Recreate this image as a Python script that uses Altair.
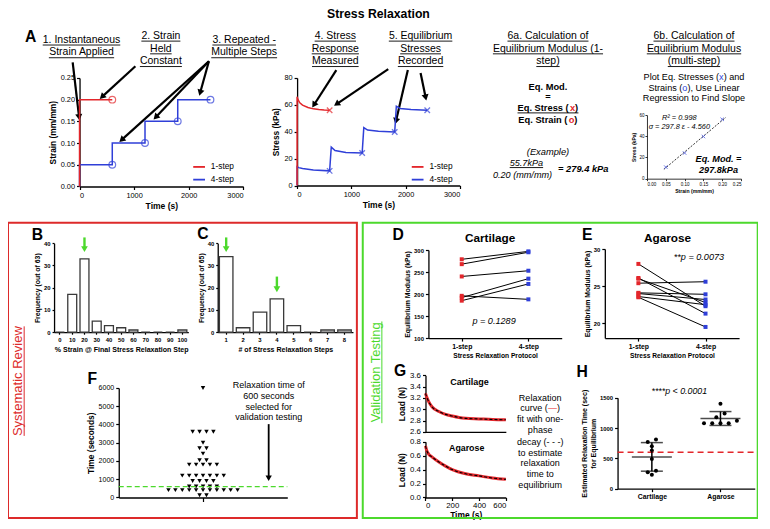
import math
import altair as alt
import pandas as pd

# ====================== DATA ======================
strain_t_1 = [0, 0, 600]
strain_v_1 = [0.0, 0.20, 0.20]
strain_t_4 = [0, 0, 600, 600, 1200, 1200, 1800, 1800, 2400]
strain_v_4 = [0.0, 0.05, 0.05, 0.10, 0.10, 0.15, 0.15, 0.20, 0.20]
eq_t_1 = [600]
eq_strain_1 = [0.20]
eq_t_4 = [600, 1200, 1800, 2400]
eq_strain_4 = [0.05, 0.10, 0.15, 0.20]

stress_t_1 = [0, 0, 15, 50, 100, 200, 300, 400, 500, 600]
stress_v_1 = [0, 66, 64, 61.5, 59.8, 58, 57, 56.5, 56.2, 56.0]
stress_t_4 = [0, 0, 30, 100, 300, 600, 600, 630, 700, 900, 1200, 1200, 1230, 1300,
              1500, 1800, 1800, 1830, 1900, 2100, 2400]
stress_v_4 = [0, 14, 13.3, 12.6, 11.6, 10.9, 10.9, 28.5, 26, 24.6, 24.2, 24.2, 43, 41.2,
              40.3, 39.8, 39.8, 59, 57.3, 56.5, 56.0]
eq_stress_1 = [56.0]
eq_stress_4 = [10.9, 24.2, 39.8, 56.0]

fit_strain = [0.045, 0.21]
fit_stress = [8.8, 58.0]

b_cats = ["0", "10", "20", "30", "40", "50", "60", "70", "80", "90", "100"]
b_freq = [0, 17, 33, 5, 3, 2, 1, 0, 0, 0, 1]
c_cats = ["1", "2", "3", "4", "5", "6", "7", "8"]
c_freq = [34, 2, 9, 15, 3, 0, 1, 1]

cart_1step = [279, 268, 240, 196, 192, 185]
cart_4step = [297, 295, 253, 188, 235, 223]
agar_1step = [28.0, 26.1, 26.0, 25.4, 24.1, 24.0, 23.6, 23.5]
agar_4step = [22.3, 21.3, 22.8, 25.6, 23.9, 23.2, 22.5, 19.5]

review_times = ([6000] + [3600] * 4 + [3000] + [2700] * 2 + [2400] + [2040] * 2 +
                [1800] * 5 + [1200] * 7 + [900] * 4 + [600] * 5 + [400] * 11 + [120] * 2)

g_time_c = [0, 10, 25, 50, 100, 150, 200, 250, 300, 400, 500, 600]
g_load_c = [3.28, 3.21, 3.13, 3.04, 2.96, 2.91, 2.88, 2.855, 2.84, 2.83, 2.82, 2.815]
g_time_a = [0, 10, 25, 50, 100, 150, 200, 300, 400, 500, 600]
g_load_a = [0.74, 0.67, 0.62, 0.58, 0.51, 0.45, 0.40, 0.34, 0.31, 0.28, 0.26]

h_cart = [810, 770, 700, 630, 490, 295, 270, 230]
h_agar = [1400, 1240, 1180, 1120, 1080, 1080, 1080, 1080]
h_threshold = 600
f_threshold = 600

# ====================== STYLE / LAYOUT ======================
FONT = "Liberation Sans"
RED = "#e3262b"
BLUE = "#2f3fd8"
GREEN = "#4cd92c"
BOXRED = "#dd2a2a"
SX, SY = 0.98, 0.978


def LX(x):
    return (x - 2.0) * SX


def LY(y):
    return (y - 2.5) * SY


def fs(v):
    return v * 0.98


CW = int(LX(768))
CH = 512

AW = {' ': 278, '!': 278, '"': 355, '#': 556, '$': 556, '%': 889, '&': 667, "'": 191,
      '(': 333, ')': 333, '*': 389, '+': 584, ',': 278, '-': 333, '.': 278, '/': 278,
      ':': 278, ';': 278, '<': 584, '=': 584, '>': 584, '?': 556, '@': 1015,
      'A': 667, 'B': 667, 'C': 722, 'D': 722, 'E': 667, 'F': 611, 'G': 778, 'H': 722,
      'I': 278, 'J': 500, 'K': 667, 'L': 556, 'M': 833, 'N': 722, 'O': 778, 'P': 667,
      'Q': 778, 'R': 722, 'S': 667, 'T': 611, 'U': 722, 'V': 667, 'W': 944, 'X': 667,
      'Y': 667, 'Z': 611, 'a': 556, 'b': 556, 'c': 500, 'd': 556, 'e': 556, 'f': 278,
      'g': 556, 'h': 556, 'i': 222, 'j': 222, 'k': 500, 'l': 222, 'm': 833, 'n': 556,
      'o': 556, 'p': 556, 'q': 556, 'r': 333, 's': 500, 't': 278, 'u': 556, 'v': 500,
      'w': 722, 'x': 500, 'y': 500, 'z': 500, '\u2014': 1000}


def text_w(s, size, bold=False):
    w = sum(AW.get(ch, 556) for ch in s) / 1000.0 * size
    return w * (1.08 if bold else 1.0)


one = pd.DataFrame({"k": [0]})
base = alt.Chart(one)
ann = []


def T(s, x, y, size, bold=False, italic=False, color="black", align="center",
      angle=0, underline=False):
    f = fs(size)
    ann.append(base.mark_text(font=FONT, fontSize=f, fontWeight="bold" if bold else "normal",
                              fontStyle="italic" if italic else "normal", color=color,
                              align=align, baseline="middle", angle=angle)
               .encode(x=alt.value(LX(x)), y=alt.value(LY(y)), text=alt.value(s)))
    if underline:
        w = text_w(s, f, bold)
        cx = LX(x)
        x0 = cx if align == "left" else (cx - w if align == "right" else cx - w / 2)
        yy = LY(y) + f * 0.5
        ann.append(base.mark_rule(color=color, strokeWidth=0.9)
                   .encode(x=alt.value(x0), x2=alt.value(x0 + w), y=alt.value(yy), y2=alt.value(yy)))


def RICH(segs, x, y, size, bold=False, italic=False, underline=False):
    f = fs(size)
    total = sum(text_w(s, f, bold) for s, _ in segs)
    cur = LX(x) - total / 2
    for s, col in segs:
        ann.append(base.mark_text(font=FONT, fontSize=f, fontWeight="bold" if bold else "normal",
                                  fontStyle="italic" if italic else "normal", color=col,
                                  align="left", baseline="middle")
                   .encode(x=alt.value(cur), y=alt.value(LY(y)), text=alt.value(s)))
        cur += text_w(s, f, bold)
    if underline:
        yy = LY(y) + f * 0.5
        ann.append(base.mark_rule(color="black", strokeWidth=0.9)
                   .encode(x=alt.value(LX(x) - total / 2), x2=alt.value(LX(x) + total / 2),
                           y=alt.value(yy), y2=alt.value(yy)))


def LINE(x1, y1, x2, y2, color="black", width=1.0):
    ann.append(base.mark_rule(color=color, strokeWidth=width)
               .encode(x=alt.value(LX(x1)), y=alt.value(LY(y1)),
                       x2=alt.value(LX(x2)), y2=alt.value(LY(y2))))


def ARROW(x1, y1, x2, y2, color="black", width=2.2, head=50):
    X1, Y1, X2, Y2 = LX(x1), LY(y1), LX(x2), LY(y2)
    dx, dy = X2 - X1, Y2 - Y1
    L = math.hypot(dx, dy)
    ux, uy = dx / L, dy / L
    hl = math.sqrt(head) * 0.55
    ann.append(base.mark_rule(color=color, strokeWidth=width)
               .encode(x=alt.value(X1), y=alt.value(Y1),
                       x2=alt.value(X2 - ux * hl), y2=alt.value(Y2 - uy * hl)))
    ang = math.degrees(math.atan2(dx, -dy)) % 360
    ann.append(base.mark_point(shape="triangle-up", filled=True, color=color, size=head,
                               angle=ang, opacity=1)
               .encode(x=alt.value(X2 - ux * hl), y=alt.value(Y2 - uy * hl)))


def BOX(x0, y0, x1, y1, color):
    ann.append(base.mark_rect(fillOpacity=0, stroke=color, strokeWidth=2)
               .encode(x=alt.value(LX(x0)), x2=alt.value(LX(x1)),
                       y=alt.value(LY(y0)), y2=alt.value(LY(y1))))


# ---------------- annotations ----------------
T("Stress Relaxation", 380, 9, 12.5, bold=True)
T("A", 25, 32, 16, bold=True)
for s, x, y in [("1. Instantaneous", 77, 35), ("Strain Applied", 77, 48),
                ("2. Strain", 158, 31), ("Held", 158, 44), ("Constant", 158, 57),
                ("3. Repeated -", 243, 35), ("Multiple Steps", 243, 48),
                ("4. Stress", 336, 31), ("Response", 336, 44), ("Measured", 336, 57),
                ("5. Equilibrium", 423, 31), ("Stresses", 423, 44), ("Recorded", 423, 57),
                ("6a. Calculation of", 553, 31), ("Equilibrium Modulus (1-", 553, 44),
                ("step)", 553, 57),
                ("6b. Calculation of", 702, 31), ("Equilibrium Modulus", 702, 44),
                ("(multi-step)", 702, 57)]:
    T(s, x, y, 10.7, underline=True)

T("Eq. Mod.", 553, 83, 9.5, bold=True)
T("=", 553, 94, 9.5, bold=True)
RICH([("Eq. Stress (", "black"), ("x", RED), (")", "black")], 553, 105, 9.5, bold=True,
     underline=True)
RICH([("Eq. Strain (", "black"), ("o", RED), (")", "black")], 553, 117, 9.5, bold=True)
T("(Example)", 553, 150, 9.5, italic=True)
T("55.7kPa", 531, 161, 9.3, italic=True, underline=True)
T("0.20 (mm/mm)", 527, 173, 9.3, italic=True)
T("= 279.4 kPa", 589, 167, 9.5, bold=True, italic=True)

RICH([("Plot Eq. Stresses (", "black"), ("x", BLUE), (") and", "black")], 702, 73, 9.3)
RICH([("Strains (", "black"), ("o", BLUE), ("), Use Linear", "black")], 702, 84, 9.3)
T("Regression to Find Slope", 702, 95, 9.3)
T("R\u00b2 = 0.998", 687, 115, 7.5, italic=True)
T("\u03c3 = 297.8 \u03b5 - 4.560", 687, 124, 7.5, italic=True)
T("Eq. Mod. =", 727, 157, 9.3, bold=True, italic=True)
T("297.8kPa", 727, 168, 9.3, bold=True, italic=True)

for lx in (191, 414):
    LINE(lx, 165, lx + 12, 165, RED, 1.8)
    LINE(lx, 178, lx + 12, 178, BLUE, 1.8)
    T("1-step", lx + 18, 165, 8.5, align="left")
    T("4-step", lx + 18, 178, 8.5, align="left")

for a in [(68, 58, 75, 118), (132, 62, 95, 96), (207, 57, 115, 140), (207, 57, 150, 117),
          (207, 57, 197, 93), (337, 66, 312, 105), (390, 65, 334, 103), (410, 66, 397, 122),
          (423, 69, 429, 98)]:
    ARROW(*a)

BOX(2, 222, 358, 524, BOXRED)
BOX(364, 222, 767, 524, GREEN)
T("Systematic Review", 12, 384, 13.3, color=BOXRED, angle=270)
LINE(18.5, 328, 18.5, 440, BOXRED, 1.0)
T("Validation Testing", 377, 375, 13.2, color=GREEN, angle=270)
LINE(383.5, 323, 383.5, 427, GREEN, 1.0)

for s, x, y in [("B", 32, 235), ("C", 201, 234), ("D", 400, 235), ("E", 593, 235),
                ("F", 88, 382), ("G", 402, 374), ("H", 588, 375)]:
    T(s, x, y, 16, bold=True)
T("Cartilage", 494, 238, 12, bold=True)
T("Agarose", 675, 238, 12, bold=True)
T("p = 0.1289", 498, 323, 9.3, italic=True)
T("**p = 0.0073", 707, 257, 9.3, italic=True)
T("****p < 0.0001", 687, 394, 9.0, italic=True)

for s, y in [("Relaxation time of", 388), ("600 seconds", 399), ("selected for", 410),
             ("validation testing", 421)]:
    T(s, 268, y, 9.2)
ARROW(268, 428, 268, 487, width=1.8, head=40)

T("Cartilage", 473, 385, 9.2, bold=True)
T("Agarose", 470, 452, 9.0, bold=True)
for s, y in [("Relaxation", 401), (None, 412), ("fit with one-", 423), ("phase", 434),
             ("decay (- - -)", 446), ("to estimate", 457), ("relaxation", 468),
             ("time to", 479), ("equilibrium", 490)]:
    if s is None:
        RICH([("curve (", "black"), ("\u2014", RED), (")", "black")], 545, y, 9.2)
    else:
        T(s, 545, y, 9.2)

# ====================== PANEL GEOMETRY ======================
rects = {
    "A1": (75, 74, 242, 185),
    "A2": (297, 74, 463, 184),
    "M": (654, 112, 750, 177),
    "B": (49, 243, 186, 334),
    "C": (216, 243, 354, 334),
    "D": (431, 250, 567, 340),
    "E": (611, 249, 748, 340),
    "F": (115, 391, 287, 503),
    "G1": (428, 378, 510, 436),
    "G2": (428, 446, 510, 503),
    "H": (624, 401, 764, 494),
}


def R(name):
    x0, y0, x1, y1 = rects[name]
    return LX(x0), LY(y0), LX(x1), LY(y1)


def xrange_(name):
    X0, Y0, X1, Y1 = R(name)
    return [X0, X1]


def yrange_(name):
    X0, Y0, X1, Y1 = R(name)
    return [Y1, Y0]


def xaxis(name, **kw):
    X0, Y0, X1, Y1 = R(name)
    d = dict(orient="bottom", offset=Y1 - CH, labelFont=FONT, titleFont=FONT, tickSize=3,
             labelPadding=2, titlePadding=3, grid=False)
    d.update(kw)
    return alt.Axis(**d)


def yaxis(name, **kw):
    X0, Y0, X1, Y1 = R(name)
    d = dict(orient="left", offset=-X0, labelFont=FONT, titleFont=FONT, tickSize=3,
             labelPadding=2, titlePadding=3, grid=False)
    d.update(kw)
    return alt.Axis(**d)


# ---- A1 strain ----
dA1a = pd.DataFrame({"a1t": strain_t_1, "a1s": strain_v_1, "a1i": list(range(len(strain_t_1)))})
dA1b = pd.DataFrame({"a1t": strain_t_4, "a1s": strain_v_4, "a1i": list(range(len(strain_t_4)))})
dA1c = pd.DataFrame({"a1t": eq_t_1, "a1s": eq_strain_1})
dA1d = pd.DataFrame({"a1t": eq_t_4, "a1s": eq_strain_4})
xA1 = alt.X("a1t:Q", scale=alt.Scale(domain=[0, 3000], range=xrange_("A1"), nice=False),
            axis=xaxis("A1", values=[0, 1000, 2000, 3000], format="d", title="Time (s)",
                       labelFontSize=fs(7.5), titleFontSize=fs(8.7)))
yA1 = alt.Y("a1s:Q", scale=alt.Scale(domain=[0, 0.25], range=yrange_("A1"), nice=False),
            axis=yaxis("A1", values=[0, 0.05, 0.1, 0.15, 0.2, 0.25], format=".2f",
                       title="Strain (mm/mm)", labelFontSize=fs(7.5), titleFontSize=fs(8.5)))
pA1 = alt.layer(
    alt.Chart(dA1b).mark_line(color=BLUE, strokeWidth=1.5).encode(x=xA1, y=yA1, order="a1i:Q"),
    alt.Chart(dA1a).mark_line(color=RED, strokeWidth=1.5).encode(x=xA1, y=yA1, order="a1i:Q"),
    alt.Chart(dA1d).mark_point(shape="circle", filled=False, color=BLUE, size=45,
                               strokeWidth=1.2).encode(x=xA1, y=yA1),
    alt.Chart(dA1c).mark_point(shape="circle", filled=False, color=RED, size=45,
                               strokeWidth=1.2).encode(x=xA1, y=yA1),
)

# ---- A2 stress ----
XSHAPE = "M-1,-1L1,1M-1,1L1,-1"
dA2a = pd.DataFrame({"a2t": stress_t_1, "a2s": stress_v_1, "a2i": list(range(len(stress_t_1)))})
dA2b = pd.DataFrame({"a2t": stress_t_4, "a2s": stress_v_4, "a2i": list(range(len(stress_t_4)))})
dA2c = pd.DataFrame({"a2t": eq_t_1, "a2s": eq_stress_1})
dA2d = pd.DataFrame({"a2t": eq_t_4, "a2s": eq_stress_4})
xA2 = alt.X("a2t:Q", scale=alt.Scale(domain=[0, 3000], range=xrange_("A2"), nice=False),
            axis=xaxis("A2", values=[0, 1000, 2000, 3000], format="d", title="Time (s)",
                       labelFontSize=fs(7.5), titleFontSize=fs(8.7)))
yA2 = alt.Y("a2s:Q", scale=alt.Scale(domain=[0, 80], range=yrange_("A2"), nice=False),
            axis=yaxis("A2", values=[0, 20, 40, 60, 80], title="Stress (kPa)",
                       labelFontSize=fs(7.5), titleFontSize=fs(8.5)))
pA2 = alt.layer(
    alt.Chart(dA2b).mark_line(color=BLUE, strokeWidth=1.5).encode(x=xA2, y=yA2, order="a2i:Q"),
    alt.Chart(dA2a).mark_line(color=RED, strokeWidth=1.5).encode(x=xA2, y=yA2, order="a2i:Q"),
    alt.Chart(dA2d).mark_point(shape=XSHAPE, filled=False, color=BLUE, size=30,
                               strokeWidth=1.3).encode(x=xA2, y=yA2),
    alt.Chart(dA2c).mark_point(shape=XSHAPE, filled=False, color=RED, size=30,
                               strokeWidth=1.3).encode(x=xA2, y=yA2),
)

# ---- 6b mini regression plot ----
dMa = pd.DataFrame({"me": eq_strain_4, "mp": eq_stress_4})
dMb = pd.DataFrame({"me": fit_strain, "mp": fit_stress})
xM = alt.X("me:Q", scale=alt.Scale(domain=[0, 0.25], range=xrange_("M"), nice=False),
           axis=xaxis("M", values=[0, 0.05, 0.1, 0.15, 0.2, 0.25], format=".2f",
                      title="Strain (mm/mm)", labelFontSize=fs(4.6), titleFontSize=fs(5.2),
                      tickSize=2, domainWidth=0.8, tickWidth=0.8, titlePadding=2, labelPadding=1))
yM = alt.Y("mp:Q", scale=alt.Scale(domain=[0, 60], range=yrange_("M"), nice=False),
           axis=yaxis("M", values=[0, 20, 40, 60], title="Stress (kPa)", labelFontSize=fs(4.6),
                      titleFontSize=fs(5.2), tickSize=2, domainWidth=0.8, tickWidth=0.8,
                      titlePadding=2, labelPadding=1))
pM = alt.layer(
    alt.Chart(dMb).mark_line(color="black", strokeWidth=0.8, strokeDash=[2, 1.5]).encode(x=xM, y=yM),
    alt.Chart(dMa).mark_point(shape=XSHAPE, filled=False, color=BLUE, size=12,
                              strokeWidth=1).encode(x=xM, y=yM),
)

# ---- B histogram ----
dB = pd.DataFrame({"bcat": b_cats, "bfreq": b_freq})
xB = alt.X("bcat:N", sort=b_cats,
           scale=alt.Scale(domain=b_cats, range=xrange_("B"), paddingInner=0.27, paddingOuter=0.12),
           axis=xaxis("B", labelAngle=0, title="% Strain @ Final Stress Relaxation Step",
                      labelFontSize=fs(6), titleFontSize=fs(7.2), labelFontWeight="bold",
                      tickSize=2))
yB = alt.Y("bfreq:Q", scale=alt.Scale(domain=[0, 40], range=yrange_("B"), nice=False),
           axis=yaxis("B", values=[0, 10, 20, 30, 40], title="Frequency (out of 63)",
                      labelFontSize=fs(6), titleFontSize=fs(7), labelFontWeight="bold", tickSize=2))
pB = alt.layer(
    alt.Chart(dB).mark_bar(fill="white", stroke="#3a3a3a", strokeWidth=1.3).encode(x=xB, y=yB),
    base.mark_rule(color=GREEN, strokeWidth=2.4).encode(x=alt.datum("20"), y=alt.datum(42.6),
                                                         y2=alt.datum(38.0)),
    base.mark_point(shape="triangle-down", filled=True, color=GREEN, size=45, opacity=1)
    .encode(x=alt.datum("20"), y=alt.datum(37.3)),
)

# ---- C histogram ----
dC = pd.DataFrame({"ccat": c_cats, "cfreq": c_freq})
xC = alt.X("ccat:N", sort=c_cats,
           scale=alt.Scale(domain=c_cats, range=xrange_("C"), paddingInner=0.2, paddingOuter=0.1),
           axis=xaxis("C", labelAngle=0, title="# of Stress Relaxation Steps",
                      labelFontSize=fs(6), titleFontSize=fs(7.2), labelFontWeight="bold",
                      tickSize=2))
yC = alt.Y("cfreq:Q", scale=alt.Scale(domain=[0, 40], range=yrange_("C"), nice=False),
           axis=yaxis("C", values=[0, 10, 20, 30, 40], title="Frequency (out of 65)",
                      labelFontSize=fs(6), titleFontSize=fs(7), labelFontWeight="bold", tickSize=2))
pC = alt.layer(
    alt.Chart(dC).mark_bar(fill="white", stroke="#3a3a3a", strokeWidth=1.3).encode(x=xC, y=yC),
    base.mark_rule(color=GREEN, strokeWidth=2.4).encode(x=alt.datum("1"), y=alt.datum(42.6),
                                                         y2=alt.datum(38.0)),
    base.mark_point(shape="triangle-down", filled=True, color=GREEN, size=45, opacity=1)
    .encode(x=alt.datum("1"), y=alt.datum(37.3)),
    base.mark_rule(color=GREEN, strokeWidth=2.4).encode(x=alt.datum("4"), y=alt.datum(25.0),
                                                         y2=alt.datum(20.0)),
    base.mark_point(shape="triangle-down", filled=True, color=GREEN, size=45, opacity=1)
    .encode(x=alt.datum("4"), y=alt.datum(19.3)),
)


# ---- D / E paired plots ----
def paired(name, one_step, four_step, dom, vals, pre):
    n = len(one_step)
    df = pd.DataFrame({pre + "pair": list(range(n)) * 2,
                       pre + "proto": ["1-step"] * n + ["4-step"] * n,
                       pre + "v": one_step + four_step})
    ch = alt.Chart(df).transform_calculate(
        **{pre + "xi": "datum['%sproto'] == '1-step' ? 0 : 1" % pre})
    x = alt.X(pre + "xi:Q", scale=alt.Scale(domain=[-0.5, 1.5], range=xrange_(name), nice=False,
                                            zero=False),
              axis=xaxis(name, values=[0, 1],
                         labelExpr="datum.value == 0 ? '1-step' : '4-step'",
                         title="Stress Relaxation Protocol", labelFontSize=fs(7),
                         titleFontSize=fs(6.8), labelFontWeight="bold"))
    y = alt.Y(pre + "v:Q", scale=alt.Scale(domain=dom, range=yrange_(name), nice=False, zero=False),
              axis=yaxis(name, values=vals, title="Equilibrium Modulus (kPa)", labelFontSize=fs(6),
                         titleFontSize=fs(7), labelFontWeight="bold"))
    return alt.layer(
        ch.mark_line(color="black", strokeWidth=1).encode(x=x, y=y, detail=pre + "pair:N"),
        ch.mark_square(size=16, opacity=1).encode(
            x=x, y=y, color=alt.Color(pre + "proto:N",
                                      scale=alt.Scale(domain=["1-step", "4-step"],
                                                      range=[RED, BLUE]), legend=None)),
    )


pD = paired("D", cart_1step, cart_4step, [100, 300], [100, 150, 200, 250, 300], "d_")
pE = paired("E", agar_1step, agar_4step, [18, 30], [20, 25, 30], "e_")

# ---- F beeswarm of review times ----
dF = pd.DataFrame({"fv": review_times})
xF = alt.X("foff:Q", scale=alt.Scale(domain=[-1, 1], range=xrange_("F"), nice=False, zero=False),
           axis=xaxis("F", values=[0], labels=False, title="", tickSize=4))
yF = alt.Y("fv:Q", scale=alt.Scale(domain=[0, 6000], range=yrange_("F"), nice=False),
           axis=yaxis("F", values=[0, 1000, 2000, 3000, 4000, 5000, 6000], format="d",
                      title="Time (seconds)", labelFontSize=fs(7.2), titleFontSize=fs(8.6)))
pF = alt.layer(
    alt.Chart(dF).transform_window(fr="row_number()", groupby=["fv"])
    .transform_joinaggregate(fn="count()", groupby=["fv"])
    .transform_calculate(foff="(datum.fr - (datum.fn + 1) / 2) * 0.082")
    .mark_point(shape="triangle-down", filled=True, color="black", size=20, opacity=1)
    .encode(x=xF, y=yF),
    base.mark_rule(color=GREEN, strokeWidth=1.3, strokeDash=[5, 3])
    .encode(x=alt.datum(-1), x2=alt.datum(1), y=alt.datum(f_threshold)),
)

# ---- G curves ----
dGc = pd.DataFrame({"gt": g_time_c, "gl": g_load_c})
dGa = pd.DataFrame({"ht": g_time_a, "hl": g_load_a})
xG1 = alt.X("gt:Q", scale=alt.Scale(domain=[0, 600], range=xrange_("G1"), nice=False),
            axis=xaxis("G1", labels=False, ticks=False, title=""))
yG1 = alt.Y("gl:Q", scale=alt.Scale(domain=[2.6, 3.6], range=yrange_("G1"), nice=False, zero=False),
            axis=yaxis("G1", values=[2.6, 2.8, 3.0, 3.2, 3.4, 3.6], format=".1f", title="Load (N)",
                       labelFontSize=fs(8), titleFontSize=fs(8.6)))
pG1 = alt.layer(
    alt.Chart(dGc).mark_line(color=RED, strokeWidth=3, interpolate="monotone").encode(x=xG1, y=yG1),
    alt.Chart(dGc).mark_line(color="black", strokeWidth=1.1, strokeDash=[3, 2],
                             interpolate="monotone").encode(x=xG1, y=yG1),
)
xG2 = alt.X("ht:Q", scale=alt.Scale(domain=[0, 600], range=xrange_("G2"), nice=False),
            axis=xaxis("G2", values=[0, 200, 400, 600], title="Time (s)", labelFontSize=fs(8),
                       titleFontSize=fs(8.6), labelPadding=1, titlePadding=1))
yG2 = alt.Y("hl:Q", scale=alt.Scale(domain=[0, 0.8], range=yrange_("G2"), nice=False),
            axis=yaxis("G2", values=[0, 0.2, 0.4, 0.6, 0.8], format=".1f", title="Load (N)",
                       labelFontSize=fs(8), titleFontSize=fs(8.6)))
pG2 = alt.layer(
    alt.Chart(dGa).mark_line(color=RED, strokeWidth=3, interpolate="monotone").encode(x=xG2, y=yG2),
    alt.Chart(dGa).mark_line(color="black", strokeWidth=1.1, strokeDash=[3, 2],
                             interpolate="monotone").encode(x=xG2, y=yG2),
)

# ---- H scatter with mean and SD ----
dH = pd.DataFrame({"hg": ["Cartilage"] * len(h_cart) + ["Agarose"] * len(h_agar),
                   "hv": h_cart + h_agar})
hxscale = alt.Scale(domain=[-0.5, 1.5], range=xrange_("H"), nice=False, zero=False)
hyscale = alt.Scale(domain=[0, 1500], range=yrange_("H"), nice=False)
hxaxis = xaxis("H", values=[0, 1], labelExpr="datum.value == 0 ? 'Cartilage' : 'Agarose'",
               title="", labelFontSize=fs(7), labelFontWeight="bold")
hyaxis = yaxis("H", values=[0, 500, 1000, 1500], format="d",
               title=["Estimated Relaxation Time (sec)", "for Equilibrium"],
               labelFontSize=fs(6), titleFontSize=fs(7.2), labelFontWeight="bold")
hstats = (alt.Chart(dH).transform_aggregate(hm="mean(hv)", hs="stdev(hv)", groupby=["hg"])
          .transform_calculate(hx="datum.hg == 'Cartilage' ? 0 : 1",
                               hlo="datum.hm - datum.hs", hhi="datum.hm + datum.hs"))
pH = alt.layer(
    alt.Chart(dH).transform_calculate(hb="round(datum.hv / 100)",
                                      hgi="datum.hg == 'Cartilage' ? 0 : 1")
    .transform_window(hr="row_number()", groupby=["hg", "hb"], sort=[alt.SortField("hv")])
    .transform_joinaggregate(hn="count()", groupby=["hg", "hb"])
    .transform_calculate(hxo="datum.hgi + (datum.hr - (datum.hn + 1) / 2) * 0.12")
    .mark_circle(color="black", size=16, opacity=1)
    .encode(x=alt.X("hxo:Q", scale=hxscale, axis=hxaxis),
            y=alt.Y("hv:Q", scale=hyscale, axis=hyaxis)),
    base.mark_rule(color=RED, strokeWidth=1.6, strokeDash=[6, 4])
    .encode(x=alt.datum(-0.5), x2=alt.datum(1.5), y=alt.datum(h_threshold)),
    hstats.mark_rule(color="black", strokeWidth=1.5).encode(
        x=alt.X("hx:Q", scale=hxscale, axis=hxaxis),
        y=alt.Y("hlo:Q", scale=hyscale, axis=hyaxis), y2="hhi:Q"),
    hstats.mark_tick(orient="horizontal", color="black", size=22, thickness=1.5).encode(
        x=alt.X("hx:Q", scale=hxscale, axis=hxaxis), y=alt.Y("hhi:Q", scale=hyscale, axis=hyaxis)),
    hstats.mark_tick(orient="horizontal", color="black", size=22, thickness=1.5).encode(
        x=alt.X("hx:Q", scale=hxscale, axis=hxaxis), y=alt.Y("hlo:Q", scale=hyscale, axis=hyaxis)),
    hstats.mark_tick(orient="horizontal", color="black", size=40, thickness=1.5).encode(
        x=alt.X("hx:Q", scale=hxscale, axis=hxaxis), y=alt.Y("hm:Q", scale=hyscale, axis=hyaxis)),
)

# ====================== ASSEMBLY ======================
chart = (alt.layer(*ann, pA1, pA2, pM, pB, pC, pD, pE, pF, pG1, pG2, pH)
         .resolve_scale(x="independent", y="independent", color="independent")
         .resolve_axis(x="independent", y="independent")
         .properties(width=CW, height=CH, padding=0,
                     autosize=alt.AutoSizeParams(type="none"))
         .configure(font=FONT)
         .configure_view(stroke="transparent")
         .configure_axis(domainColor="black", tickColor="black", labelColor="black",
                         titleColor="black", grid=False, domainWidth=1.3, tickWidth=1.2,
                         titleFontWeight="bold"))

chart.save("out.html", embed_options={"renderer": "svg", "actions": False})
